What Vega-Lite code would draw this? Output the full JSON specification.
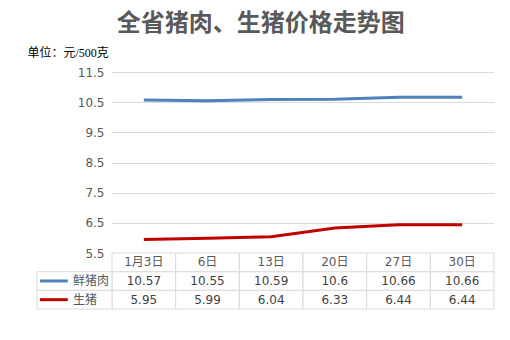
{
  "$schema": "https://vega.github.io/schema/vega-lite/v6.json",
  "padding": {"left": 27, "top": 12, "right": 16, "bottom": 5},
  "background": "white",
  "title": {"text": "全省猪肉、生猪价格走势图", "font": "Noto Sans CJK SC", "fontSize": 24, "fontWeight": "bold", "color": "#595959", "anchor": "middle", "offset": 10},
  "datasets": {
    "prices": [
      {"date": "1月3日", "series": "鲜猪肉", "value": 10.57},
      {"date": "6日", "series": "鲜猪肉", "value": 10.55},
      {"date": "13日", "series": "鲜猪肉", "value": 10.59},
      {"date": "20日", "series": "鲜猪肉", "value": 10.6},
      {"date": "27日", "series": "鲜猪肉", "value": 10.66},
      {"date": "30日", "series": "鲜猪肉", "value": 10.66},
      {"date": "1月3日", "series": "生猪", "value": 5.95},
      {"date": "6日", "series": "生猪", "value": 5.99},
      {"date": "13日", "series": "生猪", "value": 6.04},
      {"date": "20日", "series": "生猪", "value": 6.33},
      {"date": "27日", "series": "生猪", "value": 6.44},
      {"date": "30日", "series": "生猪", "value": 6.44}
    ]
  },
  "spacing": 0,
  "bounds": "flush",
  "vconcat": [
    {
      "width": 382,
      "height": 181,
      "data": {"name": "prices"},
      "mark": {"type": "line", "strokeWidth": 3},
      "encoding": {
        "x": {"field": "date", "type": "ordinal", "sort": ["1月3日", "6日", "13日", "20日", "27日", "30日"], "axis": null},
        "y": {
          "field": "value", "type": "quantitative",
          "scale": {"domain": [5.5, 11.5], "nice": false, "zero": false},
          "axis": {
            "values": [5.5, 6.5, 7.5, 8.5, 9.5, 10.5, 11.5],
            "format": ".1f",
            "title": "单位：元/500克",
            "titleAngle": 0, "titleAlign": "left", "titleBaseline": "middle",
            "titleX": -85, "titleY": -20,
            "titleFont": "Liberation Serif, Noto Sans CJK SC", "titleFontSize": 12, "titleFontWeight": "normal", "titleColor": "#000000",
            "labelColor": "#595959", "labelFontSize": 12, "labelFont": "DejaVu Sans",
            "domain": false, "ticks": false, "labelPadding": 8,
            "gridColor": "#d9d9d9"
          }
        },
        "color": {"field": "series", "type": "nominal", "scale": {"domain": ["鲜猪肉", "生猪"], "range": ["#4f81bd", "#c00000"]}, "legend": null}
      }
    },
    {
      "width": 382,
      "height": 56,
      "data": {"name": "prices"},
      "layer": [
        {
          "layer": [
            {
              "mark": {"type": "rect", "fill": "white", "stroke": "#d9d9d9", "strokeWidth": 1},
              "encoding": {
                "x": {"field": "date", "type": "ordinal", "scale": {"domain": ["1月3日", "6日", "13日", "20日", "27日", "30日"], "paddingInner": 0, "paddingOuter": 0}, "axis": null},
                "y": {"field": "series", "type": "nominal", "scale": {"domain": ["日期", "鲜猪肉", "生猪"], "paddingInner": 0, "paddingOuter": 0}, "axis": null}
              }
            },
            {
              "transform": [{"filter": "datum.series === '鲜猪肉'"}],
              "mark": {"type": "rect", "fill": "white", "stroke": "#d9d9d9", "strokeWidth": 1},
              "encoding": {
                "x": {"field": "date", "type": "ordinal", "scale": {"domain": ["1月3日", "6日", "13日", "20日", "27日", "30日"], "paddingInner": 0, "paddingOuter": 0}, "axis": null},
                "y": {"datum": "日期", "type": "nominal", "scale": {"domain": ["日期", "鲜猪肉", "生猪"], "paddingInner": 0, "paddingOuter": 0}, "axis": null}
              }
            },
            {
              "mark": {"type": "text", "font": "DejaVu Sans", "fontSize": 12, "color": "#404040"},
              "encoding": {
                "x": {"field": "date", "type": "ordinal", "scale": {"domain": ["1月3日", "6日", "13日", "20日", "27日", "30日"], "paddingInner": 0, "paddingOuter": 0}, "axis": null},
                "y": {"field": "series", "type": "nominal", "scale": {"domain": ["日期", "鲜猪肉", "生猪"], "paddingInner": 0, "paddingOuter": 0}, "axis": null},
                "text": {"field": "value", "type": "quantitative"}
              }
            },
            {
              "transform": [{"filter": "datum.series === '鲜猪肉'"}],
              "mark": {"type": "text", "font": "DejaVu Sans, Noto Sans CJK SC", "fontSize": 12, "color": "#595959"},
              "encoding": {
                "x": {"field": "date", "type": "ordinal", "scale": {"domain": ["1月3日", "6日", "13日", "20日", "27日", "30日"], "paddingInner": 0, "paddingOuter": 0}, "axis": null},
                "y": {"datum": "日期", "type": "nominal", "scale": {"domain": ["日期", "鲜猪肉", "生猪"], "paddingInner": 0, "paddingOuter": 0}, "axis": null},
                "text": {"field": "date", "type": "nominal"}
              }
            }
          ]
        },
        {
          "transform": [{"filter": "datum.date === '1月3日'"}],
          "layer": [
            {
              "mark": {"type": "rect", "fill": "white", "stroke": "#d9d9d9", "strokeWidth": 1},
              "encoding": {
                "x": {"datum": "label", "type": "nominal", "scale": {"domain": ["label"], "range": [-75, 0], "paddingInner": 0, "paddingOuter": 0}, "axis": null},
                "y": {"field": "series", "type": "nominal", "scale": {"domain": ["日期", "鲜猪肉", "生猪"], "paddingInner": 0, "paddingOuter": 0}, "axis": null}
              }
            },
            {
              "mark": {"type": "rule", "strokeWidth": 3},
              "encoding": {
                "x": {"datum": "label", "type": "nominal", "bandPosition": 0.04, "scale": {"domain": ["label"], "range": [-75, 0], "paddingInner": 0, "paddingOuter": 0}, "axis": null},
                "x2": {"datum": "label", "bandPosition": 0.41},
                "y": {"field": "series", "type": "nominal", "scale": {"domain": ["日期", "鲜猪肉", "生猪"], "paddingInner": 0, "paddingOuter": 0}, "axis": null},
                "color": {"field": "series", "type": "nominal", "scale": {"domain": ["鲜猪肉", "生猪"], "range": ["#4f81bd", "#c00000"]}, "legend": null}
              }
            },
            {
              "mark": {"type": "text", "align": "left", "font": "Noto Sans CJK SC", "fontSize": 12, "color": "#595959"},
              "encoding": {
                "x": {"datum": "label", "type": "nominal", "bandPosition": 0.48, "scale": {"domain": ["label"], "range": [-75, 0], "paddingInner": 0, "paddingOuter": 0}, "axis": null},
                "y": {"field": "series", "type": "nominal", "scale": {"domain": ["日期", "鲜猪肉", "生猪"], "paddingInner": 0, "paddingOuter": 0}, "axis": null},
                "text": {"field": "series", "type": "nominal"}
              }
            }
          ]
        }
      ],
      "resolve": {"scale": {"x": "independent"}}
    }
  ],
  "config": {"view": {"stroke": null}, "concat": {"spacing": 0}}
}
